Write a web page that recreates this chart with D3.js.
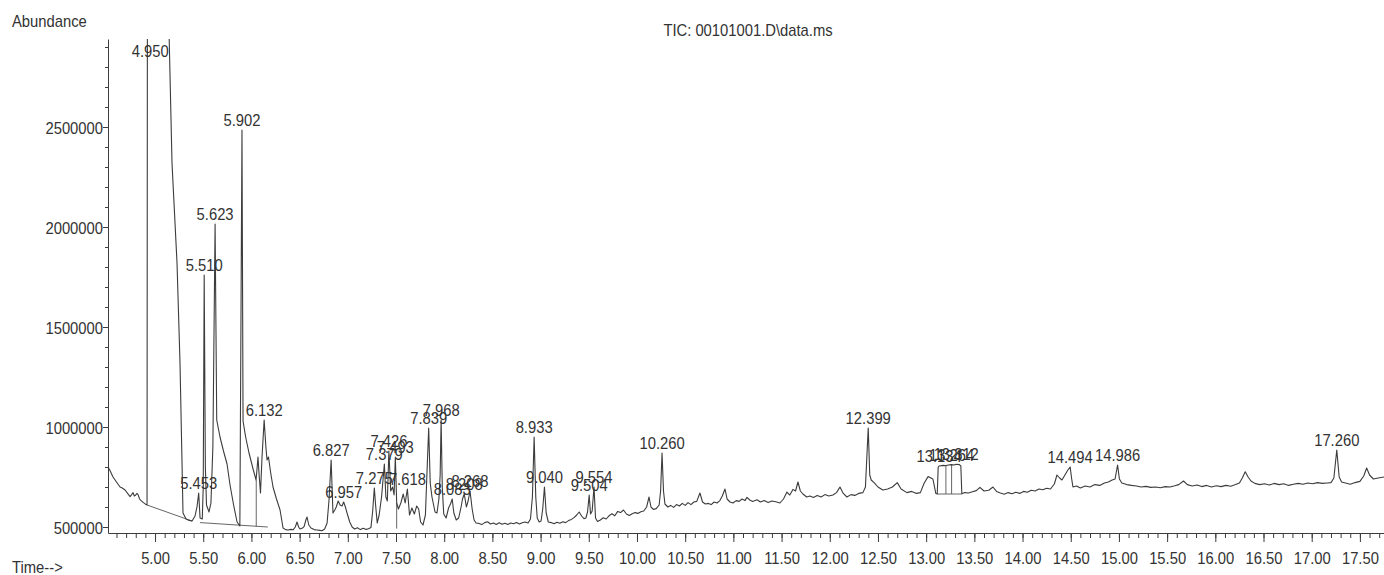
<!DOCTYPE html>
<html>
<head>
<meta charset="utf-8">
<script src="https://cdn.jsdelivr.net/npm/d3@7"></script>
<style>
  html, body { margin: 0; padding: 0; background: #fff; }
  svg { display: block; }
  text { font-family: "Liberation Sans", Arial, sans-serif; font-size: 17px; fill: #333; }
</style>
</head>
<body>
<svg id="chart" width="1384" height="575"></svg>
<script>
// Total ion chromatogram: [retention time (min), abundance]
const tic = [
  [4.512, 800000], [4.530, 785000], [4.564, 750000], [4.600, 725000], [4.637, 700000],
  [4.660, 695000], [4.689, 685000], [4.715, 668000], [4.741, 652000], [4.757, 662000],
  [4.772, 672000], [4.785, 655000], [4.800, 660000], [4.812, 668000], [4.824, 662000],
  [4.840, 640000], [4.855, 632000], [4.880, 622000], [4.907, 612000], [4.917, 610000],
  [4.921, 3300000], [4.950, 3300000], [5.130, 3300000], [5.176, 2320000], [5.228, 1820000],
  [5.259, 1320000], [5.280, 820000], [5.290, 570000], [5.322, 540000], [5.355, 533000],
  [5.384, 530000], [5.415, 555000], [5.435, 600000], [5.453, 670000], [5.467, 545000],
  [5.490, 540000], [5.500, 700000], [5.510, 1760000], [5.522, 800000], [5.534, 610000],
  [5.560, 575000], [5.580, 620000], [5.600, 900000], [5.623, 2015000], [5.640, 1035000],
  [5.674, 950000], [5.710, 880000], [5.747, 815000], [5.778, 710000], [5.815, 610000],
  [5.851, 525000], [5.880, 505000], [5.902, 2485000], [5.913, 1030000], [5.940, 950000],
  [5.975, 870000], [6.017, 790000], [6.048, 735000], [6.058, 790000], [6.068, 850000],
  [6.080, 760000], [6.094, 670000], [6.110, 850000], [6.132, 1035000], [6.150, 900000],
  [6.162, 835000], [6.177, 850000], [6.200, 770000], [6.224, 700000], [6.260, 640000],
  [6.297, 585000], [6.328, 495000], [6.355, 487000], [6.380, 485000], [6.410, 488000],
  [6.432, 486000], [6.455, 500000], [6.473, 525000], [6.490, 500000], [6.504, 490000],
  [6.530, 495000], [6.546, 502000], [6.565, 535000], [6.577, 550000], [6.595, 510000],
  [6.618, 495000], [6.650, 487000], [6.681, 485000], [6.710, 483000], [6.732, 481000],
  [6.760, 490000], [6.785, 520000], [6.805, 635000], [6.827, 835000], [6.846, 570000],
  [6.865, 585000], [6.880, 600000], [6.900, 630000], [6.920, 610000], [6.940, 605000],
  [6.957, 625000], [6.975, 600000], [6.995, 565000], [7.020, 525000], [7.045, 500000],
  [7.070, 490000], [7.100, 496000], [7.130, 487000], [7.160, 494000], [7.190, 488000],
  [7.215, 491000], [7.240, 498000], [7.258, 580000], [7.275, 695000], [7.290, 600000],
  [7.305, 520000], [7.325, 560000], [7.350, 650000], [7.379, 815000], [7.395, 650000],
  [7.410, 630000], [7.426, 880000], [7.445, 680000], [7.465, 700000], [7.480, 660000],
  [7.493, 850000], [7.507, 620000], [7.525, 590000], [7.550, 620000], [7.575, 665000],
  [7.595, 620000], [7.618, 690000], [7.640, 560000], [7.665, 595000], [7.690, 565000],
  [7.715, 605000], [7.735, 590000], [7.755, 525000], [7.780, 510000], [7.805, 560000],
  [7.822, 780000], [7.839, 995000], [7.855, 720000], [7.873, 650000], [7.890, 610000],
  [7.905, 575000], [7.925, 570000], [7.945, 640000], [7.958, 760000], [7.968, 1035000],
  [7.980, 700000], [7.995, 565000], [8.020, 545000], [8.045, 595000], [8.065, 615000],
  [8.083, 640000], [8.100, 570000], [8.125, 535000], [8.150, 545000], [8.175, 600000],
  [8.190, 640000], [8.208, 665000], [8.230, 600000], [8.248, 630000], [8.268, 680000],
  [8.290, 590000], [8.310, 535000], [8.330, 520000], [8.360, 518000], [8.390, 512000],
  [8.420, 522000], [8.450, 526000], [8.480, 515000], [8.510, 520000], [8.540, 513000],
  [8.570, 521000], [8.600, 514000], [8.630, 519000], [8.660, 513000], [8.690, 520000],
  [8.720, 516000], [8.750, 523000], [8.780, 515000], [8.810, 521000], [8.840, 525000],
  [8.870, 520000], [8.895, 540000], [8.915, 650000], [8.933, 950000], [8.950, 650000],
  [8.965, 545000], [8.985, 525000], [9.005, 530000], [9.022, 590000], [9.040, 700000],
  [9.058, 570000], [9.080, 525000], [9.110, 522000], [9.140, 516000], [9.170, 524000],
  [9.200, 519000], [9.230, 526000], [9.260, 522000], [9.290, 532000], [9.320, 538000],
  [9.350, 548000], [9.375, 560000], [9.400, 575000], [9.425, 555000], [9.450, 542000],
  [9.470, 545000], [9.487, 575000], [9.504, 660000], [9.518, 565000], [9.535, 580000],
  [9.554, 700000], [9.570, 545000], [9.590, 528000], [9.620, 535000], [9.650, 546000],
  [9.680, 540000], [9.710, 556000], [9.740, 566000], [9.770, 556000], [9.800, 578000],
  [9.830, 572000], [9.860, 585000], [9.890, 565000], [9.920, 558000], [9.950, 566000],
  [9.980, 572000], [10.010, 568000], [10.040, 576000], [10.070, 580000], [10.100, 600000],
  [10.125, 650000], [10.145, 600000], [10.170, 588000], [10.200, 592000], [10.230, 610000],
  [10.245, 680000], [10.260, 870000], [10.275, 680000], [10.290, 615000], [10.320, 600000],
  [10.350, 608000], [10.380, 598000], [10.410, 612000], [10.440, 605000], [10.470, 618000],
  [10.500, 608000], [10.530, 622000], [10.560, 612000], [10.590, 625000], [10.620, 628000],
  [10.653, 670000], [10.680, 625000], [10.710, 615000], [10.740, 618000], [10.770, 612000],
  [10.800, 625000], [10.830, 620000], [10.860, 632000], [10.885, 655000], [10.913, 690000],
  [10.935, 640000], [10.965, 625000], [10.996, 620000], [11.030, 632000], [11.060, 628000],
  [11.090, 640000], [11.120, 632000], [11.141, 648000], [11.170, 635000], [11.200, 628000],
  [11.245, 636000], [11.280, 625000], [11.320, 632000], [11.360, 622000], [11.400, 630000],
  [11.440, 626000], [11.483, 620000], [11.520, 640000], [11.556, 675000], [11.585, 660000],
  [11.618, 688000], [11.645, 680000], [11.670, 725000], [11.695, 680000], [11.722, 665000],
  [11.760, 650000], [11.795, 655000], [11.830, 648000], [11.870, 658000], [11.910, 650000],
  [11.950, 662000], [11.990, 655000], [12.033, 660000], [12.070, 672000], [12.106, 700000],
  [12.140, 668000], [12.178, 650000], [12.220, 662000], [12.260, 658000], [12.300, 668000],
  [12.344, 672000], [12.370, 700000], [12.399, 995000], [12.415, 760000], [12.430, 735000],
  [12.460, 722000], [12.500, 700000], [12.550, 685000], [12.600, 690000], [12.650, 700000],
  [12.700, 722000], [12.740, 690000], [12.800, 672000], [12.850, 678000], [12.900, 668000],
  [12.940, 672000], [12.980, 720000], [13.020, 752000], [13.070, 740000], [13.100, 668000],
  [13.115, 665000], [13.125, 800000], [13.134, 805000], [13.180, 808000], [13.200, 806000],
  [13.230, 810000], [13.264, 812000], [13.290, 810000], [13.312, 814000], [13.345, 812000],
  [13.360, 805000], [13.370, 666000], [13.400, 672000], [13.440, 670000], [13.480, 676000],
  [13.520, 682000], [13.558, 698000], [13.600, 680000], [13.650, 684000], [13.693, 700000],
  [13.730, 678000], [13.770, 670000], [13.810, 664000], [13.850, 672000], [13.890, 666000],
  [13.930, 674000], [13.970, 668000], [14.010, 678000], [14.050, 674000], [14.090, 684000],
  [14.130, 680000], [14.170, 690000], [14.210, 686000], [14.250, 694000], [14.290, 690000],
  [14.330, 715000], [14.357, 760000], [14.385, 745000], [14.409, 735000], [14.440, 760000],
  [14.470, 785000], [14.494, 800000], [14.510, 740000], [14.523, 700000], [14.560, 705000],
  [14.600, 695000], [14.650, 705000], [14.700, 700000], [14.750, 712000], [14.800, 708000],
  [14.850, 720000], [14.890, 725000], [14.930, 735000], [14.960, 740000], [14.986, 810000],
  [15.005, 740000], [15.030, 720000], [15.080, 712000], [15.130, 708000], [15.180, 705000],
  [15.230, 700000], [15.280, 703000], [15.330, 698000], [15.380, 700000], [15.430, 696000],
  [15.480, 702000], [15.530, 700000], [15.580, 706000], [15.620, 712000], [15.670, 730000],
  [15.710, 712000], [15.760, 705000], [15.810, 710000], [15.860, 702000], [15.910, 708000],
  [15.960, 700000], [16.010, 706000], [16.060, 702000], [16.110, 708000], [16.160, 704000],
  [16.210, 712000], [16.250, 720000], [16.280, 745000], [16.310, 776000], [16.340, 750000],
  [16.370, 730000], [16.410, 718000], [16.460, 712000], [16.510, 716000], [16.560, 710000],
  [16.610, 718000], [16.660, 712000], [16.710, 716000], [16.760, 708000], [16.810, 714000],
  [16.860, 718000], [16.910, 714000], [16.960, 720000], [17.010, 716000], [17.060, 722000],
  [17.110, 718000], [17.160, 720000], [17.200, 722000], [17.230, 745000], [17.260, 885000],
  [17.285, 750000], [17.310, 725000], [17.350, 720000], [17.400, 714000], [17.450, 722000],
  [17.500, 728000], [17.540, 755000], [17.570, 795000], [17.600, 760000], [17.640, 740000],
  [17.690, 745000], [17.750, 750000]
];

// Integrated peaks (retention times that get a label)
const peakTimes = [
  4.950, 5.453, 5.510, 5.623, 5.902, 6.132, 6.827, 6.957, 7.275, 7.379,
  7.426, 7.493, 7.618, 7.839, 7.968, 8.083, 8.208, 8.268, 8.933, 9.040,
  9.504, 9.554, 10.260, 12.399, 13.134, 13.264, 13.312, 14.494, 14.986, 17.260
];

// Integration baselines and drop lines: [[t1, a1], [t2, a2]]
const baselines = [
  [[4.917, 610000], [5.384, 530000]],
  [[5.467, 522000], [6.170, 500000]],
  [[6.050, 735000], [6.050, 503000]],
  [[7.507, 620000], [7.507, 492000]],
  [[13.115, 665000], [13.370, 665000]],
  [[13.205, 807000], [13.205, 665000]],
  [[13.264, 812000], [13.264, 665000]]
];

const xTickValues = [5.0, 5.5, 6.0, 6.5, 7.0, 7.5, 8.0, 8.5, 9.0, 9.5, 10.0, 10.5, 11.0,
                     11.5, 12.0, 12.5, 13.0, 13.5, 14.0, 14.5, 15.0, 15.5, 16.0, 16.5, 17.0, 17.5];
const xTickLabels = ["5.00", "5.50", "6.00", "6.50", "7.00", "7.50", "8.00", "8.50", "9.00",
                     "9.50", "10.00", "10.50", "11.00", "11.50", "12.00", "12.50", "13.00",
                     "13.50", "14.00", "14.50", "15.00", "15.50", "16.00", "16.50", "17.00", "17.50"];
const yTickValues = [500000, 1000000, 1500000, 2000000, 2500000];
const yTickLabels = ["500000", "1000000", "1500000", "2000000", "2500000"];

const titleText = "TIC: 00101001.D\\data.ms";

(function draw() {
  const SX = 0.87;              // horizontal squeeze of the plotter font
  const pL = 108, pR = 1384, pT = 39, pB = 533;
  const ink = "#3c3c3c";

  const svg = d3.select("#chart");

  const x = d3.scaleLinear().domain([4.512, 17.75]).range([pL, pR]);
  const y = d3.scaleLinear().domain([470000, 2940000]).range([pB, pT]);

  function squeezed(sel, px, py, str, anchor) {
    return sel.append("text")
      .attr("transform", `translate(${px},${py}) scale(${SX},1)`)
      .attr("text-anchor", anchor)
      .text(str);
  }

  // titles
  squeezed(svg, 12, 27, "Abundance", "start");
  squeezed(svg, 748, 36, titleText, "middle");
  squeezed(svg, 12, 573, "Time-->", "start");

  // x axis: minor ticks every 0.1 min, labelled ticks every 0.5 min
  const minorX = d3.range(46, 178).map(i => i / 10);
  const gx = svg.append("g").attr("transform", `translate(0,${pB})`);
  gx.call(d3.axisBottom(x).tickValues(minorX).tickSize(5).tickSizeOuter(0).tickFormat(""));
  const gx2 = svg.append("g").attr("transform", `translate(0,${pB})`);
  gx2.call(d3.axisBottom(x).tickValues(xTickValues).tickSize(9).tickSizeOuter(0)
    .tickFormat((d, i) => xTickLabels[i]));
  gx2.select(".domain").remove();
  gx2.selectAll("text")
    .attr("y", 19).attr("dy", "0.71em")
    .attr("transform", `scale(${SX},1)`)
    .style("font-size", "17px").attr("fill", "#333");

  // y axis: minor ticks every 100000
  const minorY = d3.range(5, 30).map(i => i * 100000);
  const gy = svg.append("g").attr("transform", `translate(${pL},0)`);
  gy.call(d3.axisLeft(y).tickValues(minorY).tickSize(3).tickSizeOuter(0).tickFormat(""));
  const gy2 = svg.append("g").attr("transform", `translate(${pL},0)`);
  gy2.call(d3.axisLeft(y).tickValues(yTickValues).tickSize(5).tickSizeOuter(0)
    .tickFormat((d, i) => yTickLabels[i]));
  gy2.select(".domain").remove();
  gy2.selectAll("text")
    .attr("x", -5 / SX).attr("dy", "0.36em")
    .attr("transform", `scale(${SX},1)`)
    .style("font-size", "17px").attr("fill", "#333");

  svg.selectAll(".domain, .tick line").attr("stroke", ink).attr("stroke-width", 1);

  // plot area clip
  svg.append("clipPath").attr("id", "plot")
    .append("rect").attr("x", pL).attr("y", pT).attr("width", pR - pL).attr("height", pB - pT);

  const plot = svg.append("g").attr("clip-path", "url(#plot)");
  const line = d3.line().x(d => x(d[0])).y(d => y(d[1]));

  plot.selectAll("path.base").data(baselines).join("path")
    .attr("class", "base")
    .attr("d", line)
    .attr("fill", "none").attr("stroke", "#555").attr("stroke-width", 0.9);

  plot.append("path").datum(tic)
    .attr("d", line)
    .attr("fill", "none").attr("stroke", ink).attr("stroke-width", 1.1)
    .attr("stroke-linejoin", "round");

  // retention time labels above each apex
  const apexOf = t => tic.find(d => Math.abs(d[0] - t) < 1e-9)[1];
  const gl = svg.append("g");
  peakTimes.forEach(t => {
    const ly = Math.max(y(apexOf(t)) - 4, pT + 18);
    squeezed(gl, x(t), ly, t.toFixed(3), "middle");
  });
})();
</script>
</body>
</html>
